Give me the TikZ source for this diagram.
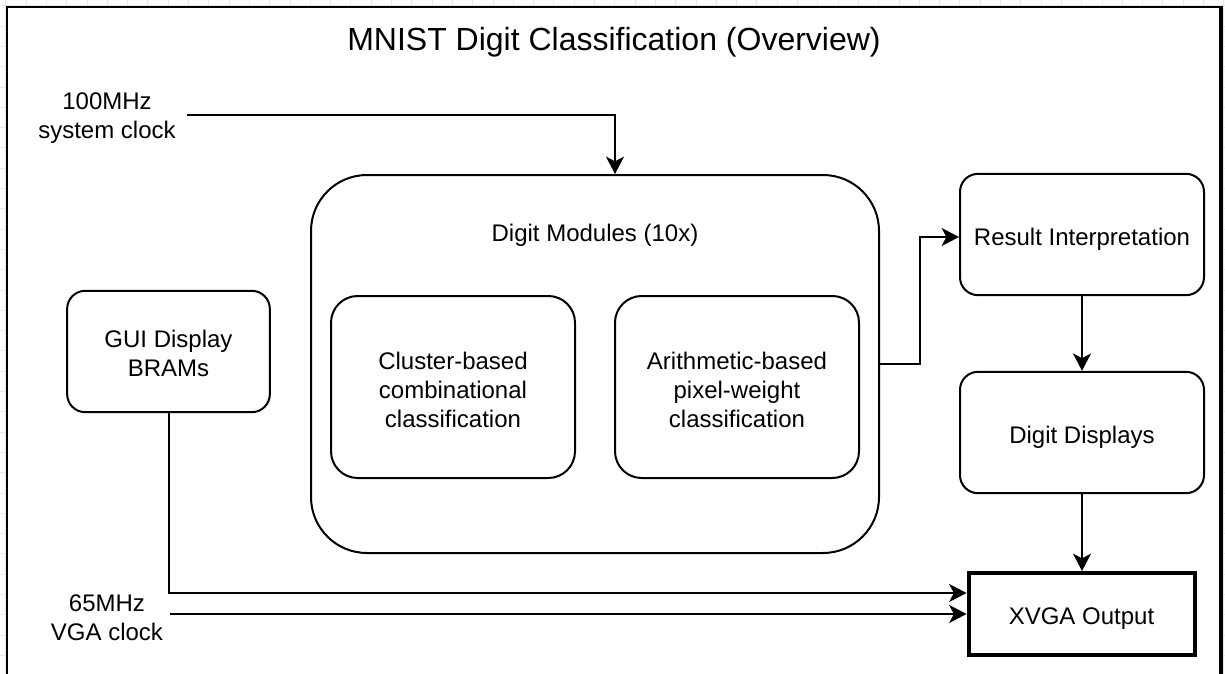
\documentclass[tikz,border=0pt]{standalone}
\usepackage{fontspec}
\setmainfont{Liberation Sans}
\usetikzlibrary{arrows.meta,calc}
\begin{document}
\begin{tikzpicture}[x=0.75pt,y=-0.75pt,
  txt/.style={align=center, font=\fontsize{18}{21.5}\selectfont, inner sep=0pt},
  box/.style={draw, line width=1.5pt, inner sep=0pt},
  boxtext/.style 2 args={label={[txt, yshift=#1]center:#2}},
  bigbox/.style={box, rounded corners=42pt, minimum width=426pt, minimum height=283.5pt},
  midbox/.style={box, rounded corners=20pt, minimum width=183pt, minimum height=136.5pt},
  smallbox/.style={box, rounded corners=13.5pt, minimum width=183pt, minimum height=91pt},
  outbox/.style={box, line width=3pt, minimum width=169.5pt, minimum height=61.5pt},
  conn/.style={line width=1.5pt, -{Stealth[length=13pt, width=13.5pt, inset=3.5pt]}},
  gridminor/.style={gray!18, line width=0.5pt},
]
\path[use as bounding box] (0,0) rectangle (1225,674);
\clip (0,0) rectangle (1225,674);
% background grid
\foreach \i in {0,...,60} {
  \draw[gridminor] (5.7+\i*20.3,0) -- (5.7+\i*20.3,674);
}
\foreach \i in {0,...,33} {
  \draw[gridminor] (0,5.7+\i*20.3) -- (1225,5.7+\i*20.3);
}
% frame
\draw[line width=1.6pt, fill=white] (7,7) rectangle (1221,700);
\draw[line width=2.6pt] (1221,6) -- (1221,700);

% title
\node[txt, font=\fontsize{24}{28}\selectfont] (title) at (614,42.5) {MNIST Digit Classification (Overview)};

% nodes
\node[bigbox] (DM) at (595,364) {};
\node[txt] (DMlabel) at (595,235) {Digit Modules (10x)};
\node[midbox, boxtext={-2.2pt}{Cluster-based\\combinational\\classification}] (CL) at (453,387) {};
\node[midbox, boxtext={-2.2pt}{Arithmetic-based\\pixel-weight\\classification}] (AR) at (737,387) {};
\node[smallbox, minimum width=152pt, boxtext={-1.5pt}{GUI Display\\BRAMs}] (GUI) at (168.5,351.5) {};
\node[smallbox, boxtext={-3.75pt}{Result Interpretation}] (RI) at (1082,234.5) {};
\node[smallbox, boxtext={-3.75pt}{Digit Displays}] (DD) at (1082,432.5) {};
\node[outbox, boxtext={-3.75pt}{XVGA Output}] (XV) at (1081.5,614) {};

\node[txt] (clk100) at (107,118) {100MHz\\system clock};
\node[txt] (clk65) at (107,618) {65MHz\\VGA clock};
\coordinate (c100) at (187,115);
\coordinate (c65) at (170,614);

% connectors
\draw[conn] (c100) -| ($(DM.north)+(20,0)$);
\draw[conn] (DM.east) -- ++(40,0) |- ($(RI.west)+(0,2.5)$);
\draw[conn] (RI.south) -- (DD.north);
\draw[conn] (DD.south) -- (DD.south |- XV.north);
\draw[conn] (GUI.south) |- ($(XV.west)+(0,-21)$);
\draw[conn] (c65) -- (c65 -| XV.west);
\end{tikzpicture}
\end{document}
